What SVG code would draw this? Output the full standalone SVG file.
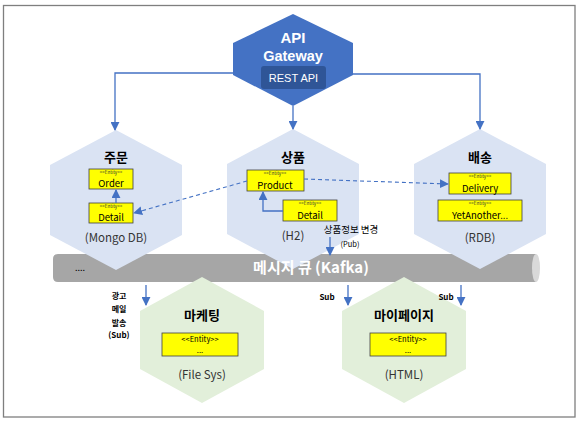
<svg xmlns="http://www.w3.org/2000/svg" width="580" height="423" viewBox="0 0 580 423">
<defs>
<marker id="ah" viewBox="0 0 10 10" refX="9" refY="5" markerWidth="9" markerHeight="9" markerUnits="userSpaceOnUse" orient="auto">
<path d="M0,0 L10,5 L0,10 z" fill="#4472C4"/>
</marker>
</defs>
<style>
text{font-family:"Noto Sans CJK KR","Liberation Sans",sans-serif}
text.gw{font-family:"Liberation Sans",Arial,sans-serif;fill:#fff;text-anchor:middle}
.hexb{fill:#DAE3F3}
.hexg{fill:#E2EFDA}
.ent{fill:#FFFF00;stroke:#404040;stroke-width:0.8}
.title{font-size:13px;font-weight:bold;fill:#000;text-anchor:middle}
.st{font-size:4.5px;fill:#333;text-anchor:middle}
.en{font-size:9.5px;fill:#000;text-anchor:middle}
.st2{font-size:7.5px;fill:#000;text-anchor:middle}
.db{font-size:11.5px;fill:#333;text-anchor:middle}
.con{stroke:#4472C4;stroke-width:1.3;fill:none;marker-end:url(#ah)}
.dash{stroke:#4472C4;stroke-width:1.1;fill:none;stroke-dasharray:4 3;marker-end:url(#ah)}
.lbl{font-size:8px;font-weight:bold;fill:#000;text-anchor:middle}
</style>
<rect x="3.5" y="5.5" width="571.5" height="411.5" fill="#fff" stroke="#7F7F7F" stroke-width="1.3"/>

<g id="kafka">
<path d="M58,254 H536 V282 H58 Q53,282 53,277 V259 Q53,254 58,254 z" fill="#A6A6A6"/>
<ellipse cx="536" cy="268" rx="4" ry="14" fill="#D9D9D9"/>
<text x="80" y="271" font-size="9" fill="#000" text-anchor="middle">....</text>
</g>

<g id="gateway">
<polygon points="293,14 353,43 353,75 293,106 233,75 233,43" fill="#4472C4"/>
<rect x="261" y="66" width="65" height="23" rx="3" fill="#2F5597"/>
<text class="gw" x="293" y="43" font-size="15" font-weight="bold">API</text>
<text class="gw" x="293" y="61" font-size="14.5" font-weight="bold">Gateway</text>
<text class="gw" x="293.5" y="81.5" font-size="11">REST API</text>
</g>

<g id="order">
<polygon class="hexb" points="116,130 182,165 182,235 116,270 50,235 50,165"/>
<text class="title" x="116" y="162">주문</text>
<rect class="ent" x="89" y="169" width="44" height="20"/>
<text class="st" x="111" y="174">&lt;&lt;Entity&gt;&gt;</text>
<text class="en" x="111" y="187">Order</text>
<rect class="ent" x="89" y="203" width="44" height="20"/>
<text class="st" x="111" y="208">&lt;&lt;Entity&gt;&gt;</text>
<text class="en" x="111" y="221">Detail</text>
<text class="db" x="116" y="242">(Mongo DB)</text>
</g>

<g id="product">
<polygon class="hexb" points="293,129 359,164 359,234 293,269 227,234 227,164"/>
<text class="title" x="293" y="162">상품</text>
<rect class="ent" x="247" y="170" width="57" height="21"/>
<text class="st" x="275" y="175">&lt;&lt;Entity&gt;&gt;</text>
<text class="en" x="275" y="189">Product</text>
<rect class="ent" x="283" y="200" width="54" height="21"/>
<text class="st" x="310" y="205">&lt;&lt;Entity&gt;&gt;</text>
<text class="en" x="310" y="219">Detail</text>
<text class="db" x="293" y="240">(H2)</text>
</g>

<g id="delivery">
<polygon class="hexb" points="480,129 546,164 546,234 480,269 414,234 414,164"/>
<text class="title" x="480" y="162">배송</text>
<rect class="ent" x="449" y="173" width="62" height="21"/>
<text class="st" x="480" y="178">&lt;&lt;Entity&gt;&gt;</text>
<text class="en" x="480" y="192">Delivery</text>
<rect class="ent" x="438" y="200" width="84" height="21"/>
<text class="st" x="480" y="205">&lt;&lt;Entity&gt;&gt;</text>
<text class="en" x="480" y="219">YetAnother...</text>
<text class="db" x="480" y="242">(RDB)</text>
</g>

<g id="marketing">
<polygon class="hexg" points="202,277 264,311 264,369 202,403 140,369 140,311"/>
<text class="title" x="202" y="320">마케팅</text>
<rect class="ent" x="162" y="333" width="76" height="23"/>
<text class="st2" x="200" y="342">&lt;&lt;Entity&gt;&gt;</text>
<text class="st2" x="200" y="353">...</text>
<text class="db" x="202" y="379">(File Sys)</text>
</g>

<g id="mypage">
<polygon class="hexg" points="404,277 466,311 466,369 404,403 342,369 342,311"/>
<text class="title" x="404" y="320">마이페이지</text>
<rect class="ent" x="370" y="333" width="76" height="23"/>
<text class="st2" x="408" y="342">&lt;&lt;Entity&gt;&gt;</text>
<text class="st2" x="408" y="353">...</text>
<text class="db" x="404" y="379">(HTML)</text>
</g>

<g id="kafka-label">
<text x="311" y="273" font-size="15" font-weight="bold" fill="#fff" text-anchor="middle">메시지 큐 (Kafka)</text>
</g>

<g id="connectors">
<path class="con" d="M233,73 H115 V130"/>
<path class="con" d="M293,106 V129"/>
<path class="con" d="M353,74 H480 V129"/>
<path class="con" d="M116,203 V190"/>
<path class="con" d="M283,211 H263 V192"/>
<path class="dash" d="M304,179 L448,184"/>
<path class="dash" d="M247,181 L134,213"/>
<path class="con" d="M330,237 V255"/>
<path class="con" d="M146,285 V305"/>
<path class="con" d="M348,285 V305"/>
<path class="con" d="M461,285 V305"/>
<text x="351" y="233" font-size="9.5" fill="#000" text-anchor="middle">상품정보 변경</text>
<text x="350" y="247" font-size="7.5" fill="#000" text-anchor="middle">(Pub)</text>
<text class="lbl" x="119" y="299">광고</text>
<text class="lbl" x="119" y="312">메일</text>
<text class="lbl" x="119" y="326">발송</text>
<text class="lbl" x="119" y="338">(Sub)</text>
<text class="lbl" x="327" y="300">Sub</text>
<text class="lbl" x="446" y="300">Sub</text>
</g>
</svg>
